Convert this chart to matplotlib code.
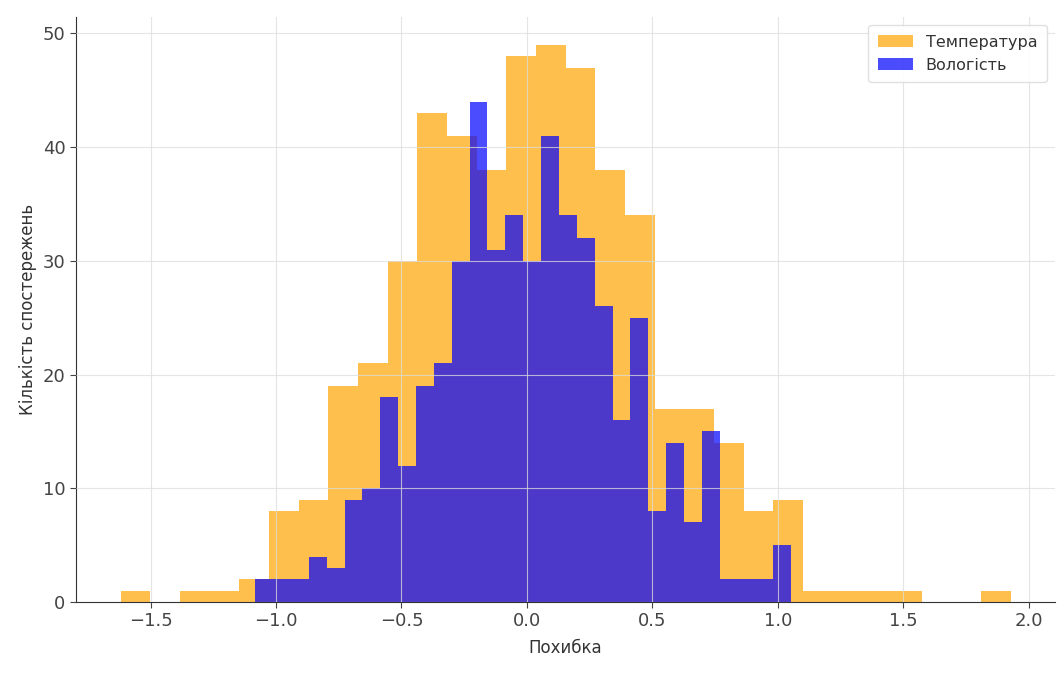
import numpy as np
import matplotlib.pyplot as plt

# bin counts (30 bins each, 500 samples each)
temp_range = (-1.62, 1.928)
temp_counts = [1, 0, 1, 1, 2, 8, 9, 19, 21, 30, 43, 41, 38, 48, 49,
               47, 38, 34, 17, 17, 14, 8, 9, 1, 1, 1, 1, 0, 0, 1]

hum_range = (-1.083, 1.054)
hum_counts = [2, 2, 2, 4, 3, 9, 10, 18, 12, 19, 21, 30, 44, 31, 34,
              30, 41, 34, 32, 26, 16, 25, 8, 14, 7, 15, 2, 2, 2, 5]

labels = ['Температура', 'Вологість']
x_label = 'Похибка'
y_label = 'Кількість спостережень'

temp_edges = np.linspace(temp_range[0], temp_range[1], len(temp_counts) + 1)
hum_edges = np.linspace(hum_range[0], hum_range[1], len(hum_counts) + 1)

fig = plt.figure(figsize=(10.59, 6.82), dpi=100)
ax = fig.add_axes([76 / 1059, 80 / 682, (1055 - 76) / 1059, (602 - 17) / 682])

ax.hist(temp_edges[:-1], bins=temp_edges, weights=temp_counts,
        color='orange', alpha=0.7, label=labels[0])
ax.hist(hum_edges[:-1], bins=hum_edges, weights=hum_counts,
        color='blue', alpha=0.7, label=labels[1])

# grid sits on top of the bars, faint
ax.set_axisbelow(False)
ax.grid(True, color='#dddddd', linewidth=0.8, alpha=0.75)
for s in ['top', 'right']:
    ax.spines[s].set_visible(False)
for s in ['left', 'bottom']:
    ax.spines[s].set_color('#333333')

ax.tick_params(labelsize=13, colors='#444444', length=4)
ax.set_xlabel(x_label, fontsize=12, color='#333333', labelpad=6)
ax.set_ylabel(y_label, fontsize=12, color='#333333')
leg = ax.legend(loc='upper right', fontsize=11.5, framealpha=0.9, edgecolor='#dddddd',
                handlelength=2.2, borderpad=0.6)
for t in leg.get_texts():
    t.set_color('#333333')

fig.savefig('out.png', dpi=100)
